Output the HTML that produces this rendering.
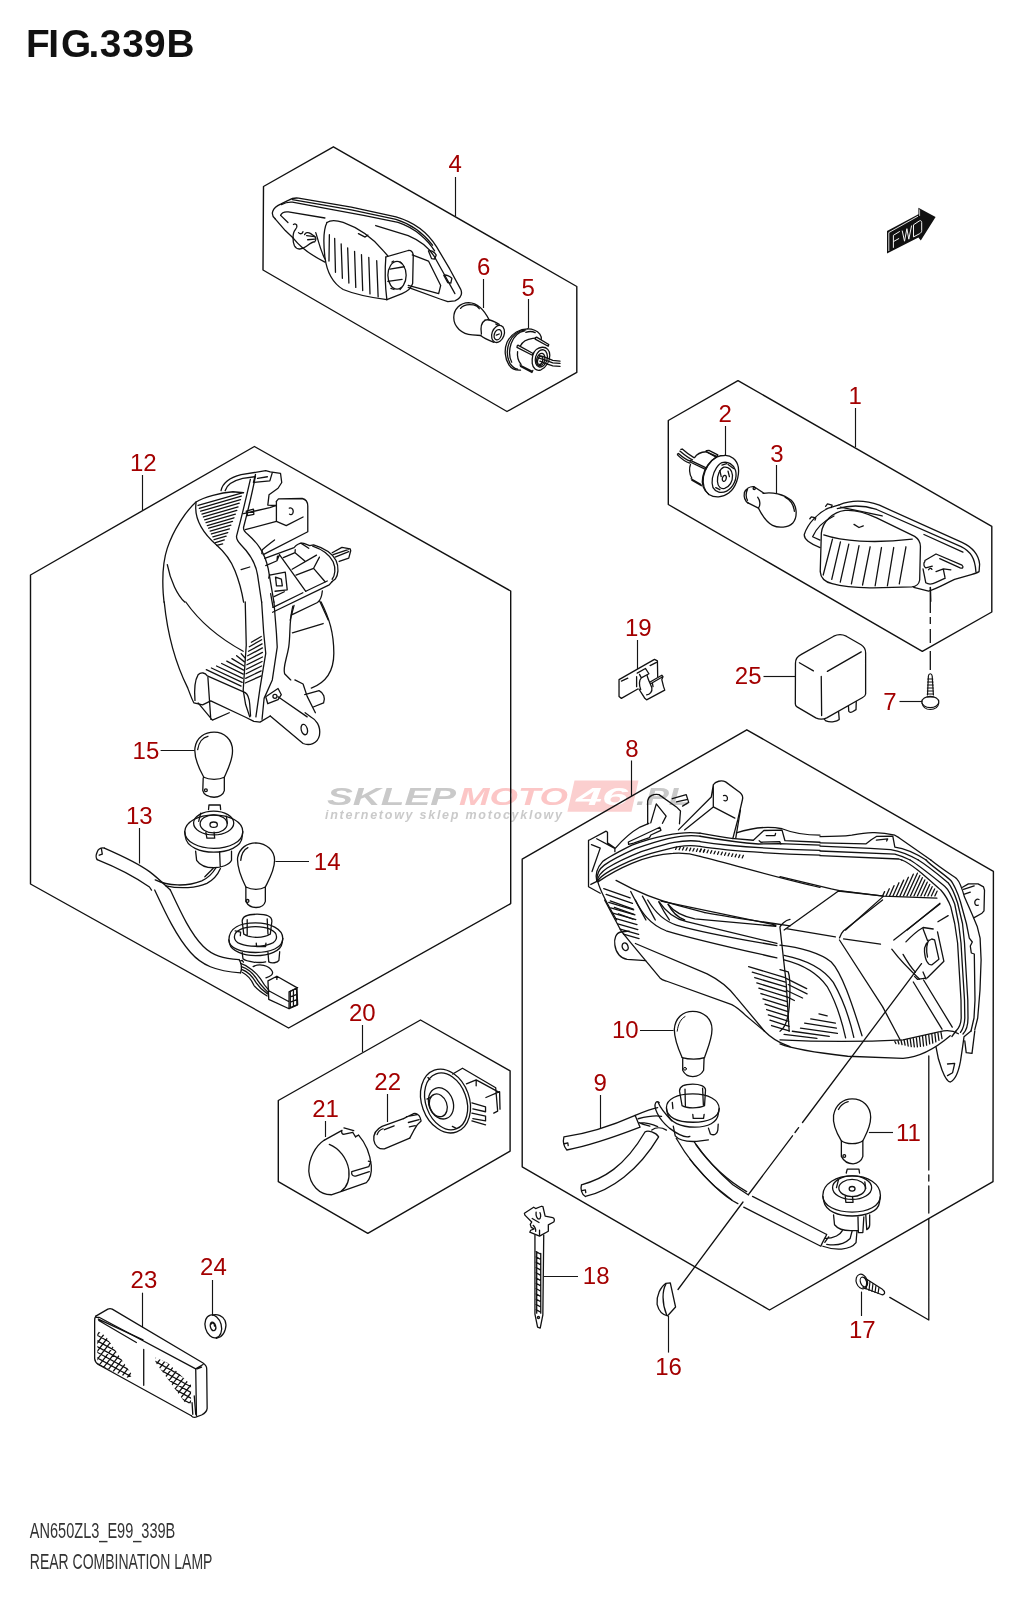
<!DOCTYPE html>
<html><head><meta charset="utf-8">
<style>
html,body{margin:0;padding:0;background:#fff;width:1024px;height:1600px;overflow:hidden}
svg{display:block;will-change:transform}
.t{font-family:"Liberation Sans",sans-serif}
.lb{font-family:"Liberation Sans",sans-serif;font-size:24px;fill:#a30000;text-anchor:middle}
.k{fill:none;stroke:#111;stroke-width:1.4;stroke-linejoin:round;stroke-linecap:round}
.ld{fill:none;stroke:#151515;stroke-width:1.15}
.z{fill:none;stroke:#111;stroke-width:1.3;stroke-linejoin:round;stroke-linecap:round}
.z path,.z line,.z ellipse,.z circle,.z polyline,.z polygon,.z rect{vector-effect:non-scaling-stroke}
.zw{fill:#fff}
</style></head>
<body>
<svg width="1024" height="1600" viewBox="0 0 1024 1600">
<rect width="1024" height="1600" fill="#fff"/>

<!-- title -->
<text class="t" x="26 48.2 61 88.5 99.7 122.3 144 166.4" y="57.2" font-size="38.8" font-weight="bold" fill="#111">FIG.339B</text>

<!-- footer -->
<text class="t" x="29.8" y="1538.3" font-size="22.3" fill="#333" textLength="145.5" lengthAdjust="spacingAndGlyphs">AN650ZL3_E99_339B</text>
<text class="t" x="29.8" y="1569" font-size="22.3" fill="#333" textLength="182.6" lengthAdjust="spacingAndGlyphs">REAR COMBINATION LAMP</text>

<!-- watermark -->
<g id="wm">
<polygon points="574.5,780.5 638.5,780.5 631.5,811.7 567.4,811.7" fill="#fbcfcf"/>
<text class="t" x="327" y="805" font-size="24" font-weight="bold" font-style="italic" fill="#c9c9c9" textLength="129" lengthAdjust="spacingAndGlyphs">SKLEP</text>
<text class="t" x="459" y="805" font-size="24" font-weight="bold" font-style="italic" fill="#fcc6c6" textLength="109" lengthAdjust="spacingAndGlyphs">MOTO</text>
<text class="t" x="576" y="805" font-size="24" font-weight="bold" font-style="italic" fill="#fff" textLength="52" lengthAdjust="spacingAndGlyphs">46</text>
<text class="t" x="636" y="805" font-size="24" font-weight="bold" font-style="italic" fill="#c9c9c9" textLength="54" lengthAdjust="spacingAndGlyphs">.PL</text>
<text class="t" x="325" y="818.5" font-size="12.5" font-weight="bold" font-style="italic" fill="#cacaca" textLength="237" lengthAdjust="spacing">internetowy sklep motocyklowy</text>
</g>

<!-- hexagons -->
<g class="k">
<polygon points="333.4,146.8 263.5,186.5 263,270 507,411.5 576.8,372.4 576.8,286.5"/>
<polygon points="738,380.6 668.3,420.5 668.3,504.5 922.3,651.3 991.8,612 991.8,526.4"/>
<polygon points="254.4,446.5 30.5,575 30.5,884 288.6,1028 510.7,903.6 510.7,591"/>
<polygon points="746.8,729.8 522.2,859.2 522.2,1166.8 769.5,1310 993,1181.7 993.4,871.4"/>
<polygon points="420.5,1020 278.3,1100.5 278.3,1181.7 367.8,1233.3 510.1,1151.2 510.1,1070.8"/>
</g>

<!-- FWD arrow -->
<g id="fwd">
<polygon points="887,231 918.4,214.3 918.4,207.8 935.6,217 920.8,240.5 918.4,237.5 887,253.5" fill="#111"/>
<path d="M888.8,251 L888.8,232.6 L918,216.2" fill="none" stroke="#fff" stroke-width="0.85"/>
<path d="M919.6,209.5 L919.6,216" fill="none" stroke="#fff" stroke-width="0.7"/>
<path d="M893.4,247.8 L893.4,235.3 L899.8,231.4 M893.4,241.6 L899.1,238.4 M902.2,230.6 L904.5,241.2 L906.9,228.7 L908.8,239.2 L911.6,225.5 M913.5,224.8 L919.4,220.9 C920.8,220.2 921.7,221 921.7,222.5 L921.7,230.6 C921.7,232 920.8,233 919.4,233.8 L913.5,236.9 Z" fill="none" stroke="#fff" stroke-width="0.95" stroke-linejoin="round"/>
</g>

<!-- leaders -->
<g class="ld" id="leaders">
<line x1="455.5" y1="177" x2="455.5" y2="216"/>
<line x1="483.5" y1="279" x2="483.5" y2="308"/>
<line x1="528.5" y1="299" x2="528.5" y2="328.5"/>
<line x1="855.5" y1="408" x2="855.5" y2="447"/>
<line x1="725.5" y1="426" x2="725.5" y2="455"/>
<line x1="776.5" y1="465" x2="776.5" y2="493"/>
<line x1="142.5" y1="475" x2="142.5" y2="510"/>
<line x1="160.6" y1="750.5" x2="194.6" y2="750.5"/>
<line x1="139.5" y1="828" x2="139.5" y2="863.5"/>
<line x1="275.4" y1="861.5" x2="309" y2="861.5"/>
<line x1="637.5" y1="640" x2="637.5" y2="669"/>
<line x1="763.5" y1="676.5" x2="795" y2="676.5"/>
<line x1="899.5" y1="701.5" x2="922.4" y2="701.5"/>
<line x1="362.5" y1="1025" x2="362.5" y2="1052"/>
<line x1="387.5" y1="1094" x2="387.5" y2="1122"/>
<line x1="325.5" y1="1121" x2="325.5" y2="1137"/>
<line x1="142.5" y1="1292.7" x2="142.5" y2="1327.4"/>
<line x1="212.5" y1="1280" x2="212.5" y2="1315.7"/>
<line x1="631.5" y1="760.5" x2="631.5" y2="796"/>
<line x1="640" y1="1030.5" x2="673.6" y2="1030.5"/>
<line x1="600.5" y1="1095" x2="600.5" y2="1128"/>
<line x1="868.9" y1="1132.5" x2="893" y2="1132.5"/>
<line x1="544" y1="1276.5" x2="578" y2="1276.5"/>
<line x1="668.5" y1="1316" x2="668.5" y2="1352.6"/>
<line x1="861.5" y1="1291.6" x2="861.5" y2="1316"/>
</g>

<!-- labels -->
<g>
<text class="lb" x="455.3" y="172">4</text>
<text class="lb" x="483.6" y="275">6</text>
<text class="lb" x="528.3" y="295.5">5</text>
<text class="lb" x="855.2" y="404">1</text>
<text class="lb" x="725.1" y="422">2</text>
<text class="lb" x="776.9" y="461.5">3</text>
<text class="lb" x="143.3" y="471">12</text>
<text class="lb" x="145.9" y="759">15</text>
<text class="lb" x="139.3" y="824">13</text>
<text class="lb" x="327.2" y="870">14</text>
<text class="lb" x="638.3" y="635.5">19</text>
<text class="lb" x="748.2" y="684">25</text>
<text class="lb" x="889.9" y="709.6">7</text>
<text class="lb" x="632" y="756.6">8</text>
<text class="lb" x="625.3" y="1038.4">10</text>
<text class="lb" x="600.3" y="1091">9</text>
<text class="lb" x="908.4" y="1141">11</text>
<text class="lb" x="596.2" y="1284">18</text>
<text class="lb" x="668.5" y="1374.6">16</text>
<text class="lb" x="862.3" y="1338">17</text>
<text class="lb" x="362.3" y="1020.5">20</text>
<text class="lb" x="387.7" y="1090">22</text>
<text class="lb" x="325.5" y="1117">21</text>
<text class="lb" x="143.9" y="1288">23</text>
<text class="lb" x="213.4" y="1275">24</text>
</g>

<!-- PARTS -->
<!-- part 4 -->
<g class="z" transform="translate(266,192) scale(0.203125)">
<path d="M45,132 C20,110 30,78 72,60 L112,40 C125,32 140,28 160,30 L420,75 L640,122 C730,148 800,205 840,270 L905,380 L958,478 C968,500 960,522 930,536 L895,540 L860,528 L700,470"/>
<path d="M75,62 C95,52 110,48 130,50 L300,82 L480,115 L650,150 C740,180 800,240 830,290"/>
<path d="M130,38 L420,88 L640,135 C720,160 780,210 820,262"/>
<path d="M45,132 L95,190 L135,228"/>
<path d="M72,115 C78,100 92,96 110,98 L290,128"/>
<path d="M72,115 L108,150"/>
<path d="M540,165 L700,215 C760,240 800,270 830,320 L880,410 L930,500"/>
<path d="M720,310 L800,340 L860,460 L850,500 L700,460"/>
<path d="M800,290 C810,285 830,295 838,310 L830,330 L815,328 Z"/>
<path d="M875,410 C885,405 905,415 915,425 L910,448 L895,446 Z"/>
<path d="M300,150 C320,136 345,138 380,150 C450,175 520,220 578,290 L600,315"/>
<path d="M300,150 C285,180 282,250 290,320 C300,400 330,450 380,480 C440,505 520,520 595,530"/>
<path d="M590,320 L700,288 C712,286 722,295 725,310 L722,450 C715,475 695,490 670,500 L595,530"/>
<path d="M590,320 C585,380 585,450 595,530"/>
<ellipse cx="645" cy="410" rx="45" ry="68"/>
<path d="M610,380 L680,368 M600,440 L670,430"/>
<path d="M620,345 L628,340 M660,345 L668,352 M615,475 L630,480 M660,480 L668,470"/>
<path d="M312,210 L310,340 M338,228 L342,395 M370,255 L376,425 M402,275 L408,448 M436,292 L442,470 M470,308 L476,485 M506,322 L512,502 M545,338 L552,516"/>
<path d="M455,205 L488,222 L502,212"/>
<path d="M135,160 C150,150 160,170 145,185 C130,200 130,240 140,265 C150,285 175,285 195,270 C215,255 225,245 240,245 C250,235 245,220 235,215 L220,205 C205,195 195,200 190,210"/>
<path d="M160,200 C170,210 180,205 182,195 M200,215 L240,220 M205,235 L240,232"/>
<path d="M245,200 C255,230 265,280 290,330"/>
<path d="M135,228 C160,260 200,300 290,345"/>
</g>
<!-- part 6 & 5 -->
<g class="z" transform="translate(450,300) scale(0.1171875)">
<path d="M335,172 C300,100 240,25 160,22 C85,22 32,80 32,150 C32,230 100,290 190,298 L262,303"/>
<path d="M90,72 C110,45 150,35 200,42 C220,45 240,58 250,75"/>
<path d="M300,172 C330,160 360,170 420,208"/>
<path d="M262,303 C280,320 320,340 375,362"/>
<path d="M300,172 C270,190 260,240 268,290"/>
<ellipse cx="410" cy="290" rx="52" ry="75" transform="rotate(20 410 290)"/>
<ellipse cx="408" cy="296" rx="30" ry="45" transform="rotate(20 408 296)"/>
<path d="M390,205 L405,212 M395,300 L420,290"/>
</g>
<!-- socket 5 detailed -->
<g class="z" transform="translate(500,320) scale(0.05859375)">
<path d="M470,150 C350,150 200,220 120,380 C70,500 80,650 150,760 C200,840 270,860 350,855"/>
<path d="M440,170 C330,180 220,250 160,380 C110,500 120,640 170,740 C210,800 250,830 300,840"/>
<path d="M420,185 C320,200 240,270 190,400 C150,520 160,640 200,720"/>
<path d="M470,150 C560,150 640,190 680,240 C700,270 710,300 705,330"/>
<path d="M440,210 C500,190 560,195 600,215"/>
<path d="M350,440 C380,380 450,330 560,315 L610,310 M300,540 C290,620 310,700 360,760"/>
<path d="M605,300 L625,293 L832,418 L822,448 L600,326 Z"/>
<path d="M295,438 L305,430 L565,572 L552,602 L290,466 Z"/>
<path d="M340,768 L552,878 L560,860 M350,792 L545,896 L552,878"/>
<path d="M560,600 C580,520 650,470 720,465 C800,460 850,520 850,600 C850,700 790,800 700,850 C620,880 560,820 550,740 C545,680 550,640 560,600 Z"/>
<ellipse cx="705" cy="655" rx="100" ry="150" transform="rotate(15 705 655)"/>
<ellipse cx="695" cy="675" rx="68" ry="108" transform="rotate(15 695 675)"/>
<ellipse cx="685" cy="690" rx="42" ry="70" transform="rotate(15 685 690)"/>
<path d="M662,608 C700,600 800,650 900,690 L1024,702 M668,650 C720,662 800,700 900,732 L1024,740 M680,702 C730,722 820,762 900,782 L1024,792"/>
</g>
<!-- socket 2 detailed -->
<g class="z" transform="translate(672,448) scale(0.068359)">
<path d="M760,110 C860,100 950,170 970,280 C990,420 930,580 830,660 C740,730 620,730 540,680 C460,620 430,520 450,420 C470,300 560,180 660,130 C700,115 730,110 760,110 Z"/>
<path d="M640,135 C560,190 480,300 460,420 C445,530 480,630 540,680"/>
<path d="M730,215 C820,190 900,240 930,330 C960,440 900,580 800,630 C720,670 640,650 600,580 C570,500 590,380 650,290 C680,250 700,225 730,215 Z"/>
<path d="M760,280 C830,270 880,320 885,400 C890,490 840,570 770,590 C710,605 670,560 665,490 C660,400 700,300 760,280 Z"/>
<ellipse cx="765" cy="445" rx="28" ry="45" transform="rotate(15 765 445)"/>
<path d="M730,250 L800,230 M820,240 L900,300 M640,580 L700,610 M700,330 L720,420 M820,340 L840,420"/>
<path d="M330,140 C360,90 420,60 500,55 L640,130 M270,240 C250,290 250,380 290,440"/>
<path d="M500,40 L540,35 L670,100 L660,125 L505,58 M270,180 L500,290 L490,312 L265,205 M280,450 L420,530 L430,552 L290,472"/>
<path d="M130,20 L150,15 C200,60 250,100 320,140 M115,45 C180,100 240,150 300,172 M80,90 L95,80 C150,130 200,170 270,192 M80,100 C130,150 190,200 260,222"/>
</g>
<!-- part 2 & 3 -->
<g class="z" transform="translate(670,440) scale(0.13671875)">
</g>
<!-- bulb 3 -->
<g class="z" transform="translate(660,430) scale(0.15625)">
<path d="M660,405 C720,395 790,410 840,450 C880,490 880,560 850,595 C820,625 760,630 720,610 C680,590 650,540 630,500"/>
<path d="M625,430 C640,450 645,480 630,500 M600,362 L665,405 M560,465 L630,500"/>
<path d="M600,362 C575,360 550,375 540,400 C535,430 545,455 565,468 M560,380 C550,400 550,430 560,450"/>
<circle cx="603" cy="374" r="7"/>
<path d="M800,430 C830,445 855,480 860,520"/>
</g>
<!-- part 1 lamp -->
<g class="z" transform="translate(795,490) scale(0.185546875)">
<path d="M142,232 C148,170 205,118 270,110 C330,105 380,122 440,150 L645,250 C668,265 676,285 676,305 L672,485 C668,508 650,520 630,522 L420,527 C330,528 250,520 200,505 C160,495 138,470 136,440 Z"/>
<path d="M155,242 C250,275 420,290 632,265"/>
<path d="M202,265 L152,458 M245,280 L198,482 M290,292 L244,496 M345,300 L304,506 M405,306 L364,512 M466,310 L432,516 M532,310 L498,516 M598,306 L562,506"/>
<path d="M318,185 L345,202 L368,193"/>
<path d="M238,80 C300,55 380,55 455,82 L900,282 C960,310 990,350 995,400 L992,440 C970,455 920,462 860,482 C800,510 760,535 720,545 L640,525"/>
<path d="M228,100 C300,80 370,82 440,105 L895,305 C945,330 970,365 975,440"/>
<path d="M245,92 L470,140 M695,240 L905,335"/>
<path d="M238,80 L180,98 C130,120 70,175 50,240 C48,262 70,285 135,310"/>
<path d="M95,252 C110,215 150,170 210,140 M95,252 L135,270"/>
<path d="M165,88 L175,75 L200,82 L195,95 M80,155 L88,145 L112,150 L108,162"/>
<path d="M700,380 L760,345 L900,405 C910,415 905,425 890,420 L780,370"/>
<path d="M690,425 L705,500 C720,510 740,508 760,498 L810,475 M700,385 C690,395 695,415 705,420 L740,410 M720,430 C725,420 735,420 738,428 M760,440 L800,425 L840,430 M800,430 L808,470"/>
<path d="M730,525 L732,600"/>
</g>
<!-- dashed line lamp1 -> screw 7 -->
<line x1="930.3" y1="587" x2="930.3" y2="670" stroke="#111" stroke-width="1.3" stroke-dasharray="26 4 7 5 14 8"/>
<!-- screw 7 -->
<g class="k" style="stroke-width:1.2">
<path d="M927.5,695 L928.4,676 C928.8,673 931.8,673 932.2,676 L933.4,695"/>
<path d="M927.8,679 L932.8,679 M927.6,682 L933,682 M927.5,685 L933.2,685 M927.4,688 L933.3,688 M927.4,691 L933.4,691 M927.3,694 L933.4,694 M927.3,697 L933.4,697"/>
<ellipse cx="930.3" cy="702" rx="8.5" ry="5.6"/>
<path d="M922,703 C923,708 927,709.5 930.3,709.5 C934,709.5 938,708 938.8,703"/>
</g>
<!-- taillight 12 upper -->
<g class="z" transform="translate(155,462) scale(0.205078)">
<path d="M200,195 C150,240 90,330 60,420 C40,480 35,560 40,640 L44,683"/>
<path d="M200,195 C240,170 320,150 380,145 L432,150"/>
<path d="M200,200 C192,260 215,330 300,405 C340,440 370,480 390,530 C410,580 425,640 432,683"/>
<path d="M60,500 C75,580 110,650 145,683"/>
<path d="M210,212 L425,150 M216,226 L421,166 M223,240 L417,184 M229,254 L411,201 M236,268 L405,219 M242,282 L399,236 M249,296 L392,254 M255,310 L385,272 M262,323 L378,290 M269,337 L370,308 M275,351 L363,326 M282,365 L355,344 M288,379 L347,362 M295,393 L338,380 M301,407 L330,399"/>
<path d="M465,85 C450,150 430,240 398,360 C395,375 400,385 420,405 C460,445 490,490 500,550 L520,683"/>
<path d="M490,68 C478,130 455,230 432,318 C430,330 438,342 452,352 C500,395 535,440 552,520 L580,683"/>
<path d="M420,525 L462,512"/>
<path d="M322,140 C330,100 360,78 420,62 L540,42 L562,48 L612,55 L618,100 L600,128 L556,160 L550,210 L592,212"/>
<path d="M490,60 L480,100 L560,92 L572,52 M500,80 L548,72"/>
<path d="M342,140 C350,112 378,92 428,80 L486,72"/>
<path d="M592,192 L602,180 L718,178 C738,183 745,198 745,215 L745,340 L528,452"/>
<path d="M592,192 L592,290 L640,310 L722,268"/>
<path d="M655,225 C668,220 678,235 672,250 C668,258 660,258 656,254"/>
<path d="M440,330 L592,290 M432,252 L560,222 L592,212 M445,240 L480,230 L482,255 L452,262 Z"/>
</g>
<!-- taillight socket -->
<g class="z" transform="translate(255,540) scale(0.09765625)">
<path d="M100,188 L400,78 C430,45 470,28 500,35 L560,58 L600,50 C700,80 790,130 830,210 C862,280 852,360 822,400 L790,425"/>
<path d="M590,62 C680,92 760,142 800,222 C830,292 820,362 790,402"/>
<path d="M470,32 L550,85 M790,130 L890,75 L975,90 L980,110 L960,185 L862,220 M800,150 L960,95 M820,175 L960,120"/>
<path d="M70,140 L75,100 C120,60 160,30 200,0"/>
<path d="M110,262 L220,215 M230,165 L225,212 L250,150 M250,150 L520,525"/>
<path d="M290,180 L410,130 L510,215 M410,130 L412,100 M380,300 L630,155 M420,360 L600,290 L660,175 M600,290 L720,430 M520,525 L740,420"/>
<path d="M150,360 L310,330 L330,510 L205,525 M210,380 L270,400 L280,470 L220,470 Z M195,580 L300,530"/>
<path d="M185,690 L490,540 M180,740 L760,460 L790,425"/>
<path d="M360,820 L400,670 M370,770 L640,640 C670,620 685,570 690,520 M660,620 L750,819"/>
<path d="M150,355 L140,390 M160,550 L185,690"/>
</g>
<!-- taillight 12 lower -->
<g class="z" transform="translate(155,602) scale(0.205078)">
<path d="M150,0 C220,100 320,180 430,240"/>
<path d="M45,0 C60,150 100,300 160,420 C175,460 182,480 190,492 L232,502 L272,482 L442,562 L482,582 L512,586 L562,556"/>
<path d="M195,480 C190,420 195,380 210,355 C225,340 245,345 255,360 L440,442 C455,452 460,472 462,500 L466,556"/>
<path d="M210,492 L280,576 L362,540 M258,368 L272,572"/>
<path d="M250,330 L420,410 M275,322 L425,392 M300,312 L428,372 M325,300 L430,352 M350,288 L432,332 M375,276 L434,312 M398,262 L436,292 M420,252 L438,272"/>
<path d="M440,395 L518,360 M442,372 L518,336 M444,350 L520,312 M446,328 L522,290 M448,306 L524,268 M450,284 L524,246 M452,262 L524,224 M456,240 L522,204 M460,218 L520,184 M470,196 L518,168"/>
<path d="M440,0 L445,210 L430,430 L442,500 L462,560"/>
<path d="M520,0 L530,150 L540,250 L512,420 L492,560"/>
<path d="M580,0 L592,150 L596,220 L572,380 L532,470 L522,572"/>
<path d="M672,20 C652,100 662,150 652,220 C642,280 622,320 632,350 L662,380"/>
<path d="M670,150 L820,105 M810,0 C850,80 872,150 872,250 C872,330 842,390 762,420"/>
<path d="M562,556 L722,690 C752,702 792,692 802,650 C810,602 782,572 762,562 L732,540 M600,462 L742,560"/>
<ellipse cx="728" cy="622" rx="15" ry="26" transform="rotate(-15 728 622)"/>
<path d="M730,452 L800,432 C822,442 832,470 822,492 L772,512 M682,380 L722,400 L742,460 L782,540"/>
<path d="M540,462 L600,422 L616,452 L600,476 L550,496 Z"/>
<circle cx="585" cy="460" r="10"/>
</g>
<!-- bulbs 15, 14, socket, harness 13 -->
<g class="z" transform="translate(90,725) scale(0.205078)">
<path d="M555,255 C530,210 505,160 512,110 C520,60 560,35 605,35 C655,35 695,70 695,125 C695,175 670,220 655,255"/>
<path d="M525,120 C530,85 550,60 575,55"/>
<path d="M555,255 C580,268 630,268 655,255 M552,258 L550,320 C555,340 575,350 605,352 C630,350 650,340 655,320 L655,255 M575,345 C590,356 620,356 635,345"/>
<circle cx="565" cy="318" r="7"/>
<path d="M462,520 C465,470 530,440 603,438 C680,440 745,470 745,520 C745,570 680,600 603,602 C530,600 462,570 462,520 Z"/>
<path d="M462,520 L465,545 C470,595 540,620 603,620 C670,620 740,595 742,545 L745,520"/>
<ellipse cx="603" cy="478" rx="98" ry="58"/>
<ellipse cx="603" cy="482" rx="66" ry="44"/>
<ellipse cx="603" cy="486" rx="18" ry="13"/>
<path d="M578,412 L580,390 L635,390 L637,412 M540,430 L530,470 M665,445 L670,480"/>
<path d="M565,522 L570,552 L608,552 L605,522"/>
<path d="M515,615 L520,660 C540,690 580,696 603,696 C640,696 680,682 690,660 L690,615 M632,618 L635,690"/>
<path d="M70,600 C55,598 40,605 35,620 C28,635 30,650 35,656 M55,600 L60,630 L45,635"/>
<path d="M70,600 C150,635 230,670 290,715 C330,745 360,775 392,805"/>
<path d="M35,656 C120,690 220,740 290,790 L300,805"/>
<path d="M318,755 C380,785 470,790 545,760 C580,745 600,720 615,695 M370,784 C440,800 520,795 570,772 C600,757 620,737 636,700 M560,740 L600,700"/>
<path d="M760,790 C735,740 715,690 720,645 C730,600 765,575 810,575 C860,578 900,610 900,660 C900,710 870,760 855,790"/>
<path d="M735,660 C738,630 750,608 770,598"/>
<path d="M760,790 C790,805 830,805 855,790 M760,790 L760,860 C770,880 790,890 810,890 C835,890 850,880 855,860 L855,790"/>
<circle cx="768" cy="858" r="7"/>
</g>
<g class="z" transform="translate(150,890) scale(0.15625)">
<path d="M130,0 C200,150 260,280 340,360 C400,420 470,440 570,445 M30,0 C100,150 170,300 260,400 C330,480 420,520 580,530"/>
<path d="M505,320 C505,240 580,210 675,210 C770,210 850,250 850,310 C850,370 770,400 675,400 C580,400 505,370 505,320 Z"/>
<path d="M505,320 L510,345 C520,390 600,420 675,420 C760,420 840,390 845,340 L850,310"/>
<path d="M540,300 C540,260 600,235 675,235 C750,235 810,260 810,300 C810,340 750,360 675,360 C600,360 540,340 540,300 Z"/>
<path d="M590,200 C590,170 630,155 685,155 C740,155 780,170 780,200 M590,200 L600,282 M780,200 L770,282 M622,190 L622,292 M750,185 L755,282 M600,282 C640,310 730,310 770,282"/>
<path d="M545,262 L580,270 L578,292 M680,340 L682,362 L740,362 L742,340"/>
<path d="M590,400 L595,440 C620,460 700,470 740,460 M755,400 L760,460 C780,472 815,466 825,450 L830,395"/>
<path d="M570,445 C585,470 590,500 580,530 M575,455 L590,450 L598,462"/>
<path d="M580,470 C630,485 680,530 705,565 C725,600 740,620 760,640 M585,490 C630,505 670,545 690,580 C710,610 730,630 755,655 M590,510 C630,525 660,560 680,595 C700,625 720,645 752,665 M592,528 C625,545 650,575 665,610 C690,640 720,660 750,678"/>
<path d="M660,490 C700,470 760,480 782,520 C792,540 772,552 742,562"/>
<path d="M755,582 L812,552 L940,625 L945,735 L890,760 L760,700 Z M812,552 L812,572 M890,652 L945,625 M890,652 L890,760 M760,645 L890,715"/>
<path d="M898,648 L938,630 L940,735 L898,752 Z M898,684 L940,668 M898,718 L940,702 M918,640 L918,745"/>
</g>
<!-- headlamp 8 UL -->
<g class="z" transform="translate(580,770) scale(0.205078)">
<path d="M330,262 L330,150 C335,125 360,115 385,120 L470,180 L490,200 L485,262 M345,258 L372,165 L420,225 L402,260 M450,140 L518,120 L530,158 L500,176 M470,155 L520,145"/>
<path d="M480,292 L640,132 L650,72 C660,55 690,48 710,58 L780,110 C792,120 796,130 792,145 L770,240 L745,335 M650,72 L650,180 L755,235 M510,292 L650,180"/>
<path d="M700,125 C712,120 722,130 718,145 C714,152 706,152 702,148"/>
<path d="M609.8,695.6 C700,712 850,735 1024,760"/>
</g>
<!-- headlamp HL-A -->
<g class="z" transform="translate(585,820) scale(0.1171875)">
<path d="M30,175 L180,95 L192,105 L192,195 L255,240 L255,270 M30,175 L30,570 L130,625 M55,210 L130,240 L60,440 M50,550 L110,520 M100,160 L250,240"/>
<path d="M260,240 C320,170 400,100 470,60 L545,28 M370,188 L372,208 L415,198 L550,150 L562,128 L648,88 L638,62 Z"/>
<path d="M100,520 C88,470 100,410 150,355 C210,310 300,265 400,215 C560,150 820,88 981,113"/>
<path d="M100,520 C100,460 115,420 165,385 C230,340 330,290 430,245 C600,185 820,112 981,138"/>
<path d="M103,522 C110,480 130,450 190,410 C270,360 380,310 480,270 C660,215 820,158 981,183"/>
<path d="M106,524 C120,495 150,470 220,430 C310,380 420,330 530,295 C700,250 830,200 981,225"/>
<path d="M110,528 C180,480 280,420 400,370 C520,320 650,290 750,285 C840,278 900,285 981,310"/>
<path d="M773,251 L783,229 M803,254 L813,232 M832,256 L842,234 M862,259 L872,237 M892,262 L902,240 M921,265 L931,243 M951,268 L961,246 M980,270 L990,248 M1010,273 L1020,251"/>
<path d="M110,530 C130,600 180,700 270,853"/>
<path d="M160,585 L385,665 M180,635 L405,712 M215,690 L412,760 M250,745 L418,805 M285,800 L410,845"/>
<path d="M265,515 C400,590 600,680 800,730 L1024,790 M390,610 C430,690 480,780 520,853 M490,650 C530,720 570,800 600,853 M630,700 C660,760 690,810 720,853 M710,720 C740,780 790,830 850,853"/>
</g>
<!-- headlamp HL-B -->
<g class="z" transform="translate(700,810) scale(0.1171875)">
<path d="M310,195 C450,150 600,140 700,160 C800,200 900,215 1024,215"/>
<path d="M0,198 C100,215 200,235 270,242 L455,258 L545,175 L700,172 L725,262 L1024,275"/>
<path d="M505,262 L520,275 L680,270 L690,290 M565,218 L640,218 L645,200"/>
<path d="M0,224 C150,250 350,280 500,290 L680,287 L1024,300"/>
<path d="M0,269 C200,300 500,330 1024,345"/>
<path d="M0,311 C200,345 500,368 1024,385"/>
<path d="M0,396 C300,470 700,590 1024,660"/>
<path d="M0,356 L10,334 M30,360 L40,338 M60,365 L70,343 M90,369 L100,347 M120,374 L130,352 M150,378 L160,356 M180,382 L190,360 M210,387 L220,365 M240,391 L250,369 M270,396 L280,374 M300,400 L310,378 M330,405 L340,383 M360,409 L370,387"/>
<path d="M305,240 L345,0"/>
</g>
<!-- headlamp 8 LL -->
<g class="z" transform="translate(580,900) scale(0.205078)">
<path d="M120,0 L200,150 L245,205 L390,380 C400,390 410,392 420,395 L740,510 C770,525 790,545 810,565 L900,640 C930,670 960,690 1000,705 L1024,715"/>
<path d="M140,12 L262,48 M150,38 L268,72 M160,64 L272,96 M172,90 L278,120 M184,116 L282,144 M196,142 L286,168 M212,166 L288,188"/>
<path d="M270,0 C300,60 340,120 420,150 C550,190 750,235 960,282"/>
<path d="M330,0 C360,50 400,100 470,122 C600,160 800,195 960,222"/>
<path d="M385,8 C420,60 460,92 520,106 L960,212"/>
<path d="M430,22 C460,60 500,80 560,92 L955,128 M395,5 L955,122"/>
<path d="M240,152 L200,156 C175,160 165,190 170,220 C175,260 200,285 230,290 L320,296"/>
<ellipse cx="220" cy="228" rx="14" ry="19" transform="rotate(-20 220 228)"/>
<path d="M270,212 L620,360 C680,390 720,420 760,472 L900,640"/>
<path d="M822,325 L1000,378 M840,352 L1002,400 M852,378 L1004,424 M862,404 L1006,448 M872,430 L1008,472 M882,456 L1010,496 M892,482 L1012,520 M902,508 L1014,544 M910,534 L1016,568 M918,560 L1018,592 M926,586 L1020,616 M934,612 L1020,638"/>
<path d="M975,132 C980,120 1000,100 1024,95 M975,132 L1005,400 L1020,640"/>
</g>
<!-- headlamp 8 UR -->
<g class="z" transform="translate(780,770) scale(0.205078)">
<path d="M195,325 C270,325 320,322 350,318 C420,305 480,298 560,318 L580,330 C633.4,367.3 686.7,404.7 735.5,439.0"/>
<path d="M195,355 L420,360 L445,340 L470,324 L550,322 L560,376 C605.1,382.0 661.6,406.1 712.3,439.0"/>
<path d="M195,371 L440,382 L540,388 C579.9,394.7 628.8,412.8 674.6,439.0"/>
<path d="M195,395 L560,410 C586.2,416.7 611.1,426.9 634.3,439.0"/>
<path d="M195,418 L580,434 C584.6,435.5 589.3,437.2 593.9,439.0"/>
<path d="M470,342 L525,336 L520,346"/>
<path d="M0,520 L250,580 M250,580 L290,588 L505,615 L765,625"/>
<path d="M500,614 L510,593 M517,614 L533,579 M534,614 L556,564 M551,614 L580,550 M568,614 L603,537 M585,614 L626,523 M602,614 L650,508 M619,614 L670,503 M636,614 L682,514 M653,614 L694,525 M670,614 L706,536 M687,614 L718,547 M704,614 L730,558 M721,614 L742,569 M738,614 L754,580 M755,614 L766,591"/>
<path d="M20,780 L285,590 L505,615 L320,780 M620,780 L780,650 M770,740 L820,710"/>
</g>
<!-- headlamp right rim (source coords) -->
<g class="k" style="stroke-width:1.3">
<path d="M901.8,860.0 C912,864 925,876 941,890.3 C946,896 949,902 950.8,906.9 L954.7,923.5 L957.6,943 L958.6,960 L961,1000 L961.2,1018 C961,1024 959,1028 956,1031"/>
<path d="M910.1,860.0 C920,866 932,876 944.9,886.4 C949,890 952,897 954.7,904 L958.6,923.5 L961,943 L962,960 L964.5,1000 L964.8,1018 C964.5,1025 963,1029 960.5,1032.4"/>
<path d="M918.3,860.0 C928,866 940,876 947.9,882.5 C951,886 955,895 957.6,903 L962.5,923.5 L964.5,943 L965.4,960 L967.8,1000 L968,1018 C968,1026 966,1031 963,1034"/>
<path d="M926.1,860.0 C930,865 944,874 950.8,880.5 C953,883 958,893 960.5,902 L966.4,923.5 L969.3,938.1 L972.3,942 L970.3,946 L971.3,953 L974.3,954 L975,1000 L974,1018 L971,1031"/>
<path d="M930.8,860.0 C938,866 950,874 956.6,878.6 C959,881 962,888 964.5,897.1 L972.3,914.7 L977.2,926.4 L980.1,938.1 L981.1,960 L980,990 L977.7,1018 L974.8,1029.6"/>
<path d="M962.5,887.3 L968.4,883.9 L978.1,883.9 L983.5,886.9 L984.5,890.3 L984,910.8 L982,913.2 L974.2,917.6 M963.5,889.3 L974.2,885.9 M964.5,894.2 L970.3,892.2"/>
<path d="M905.9,941.9 C911,936.5 917,931 923.1,927.5 L933.2,929 M937.5,931.9 L943.9,961.3 L927.4,977.8 L917.4,979.3 L914.5,976.4 M923.1,929 L927.5,940.5 M926,979 L923,972"/>
<path d="M924.5,952 C923.8,946.2 927.4,940.5 931.7,939 L934.6,939.8 L938.9,959.2 L931.7,964.9 C927.4,964.9 925.3,960.6 924.5,952 Z M929,940 C926.5,944 926,950 927.5,957"/>
<path d="M979,899.5 C976.5,898.5 974.5,900.5 974.8,903 C975,905 976.5,905.8 978.3,905.2"/>
<path d="M936,1046.8 C937,1054 939,1062 942,1070 C944.7,1077 947,1082 950.4,1082 C955,1080 958.5,1072 960.5,1061.2 L962.6,1046.8 L964,1036.8 M947.5,1064 L954.7,1063.3 L952.6,1072.7 L947.5,1075.6 M964.8,1041 L966.2,1052.6 L972,1053.3 L974.8,1030.8 M956,1031 L951.9,1036.5 M971,1031 L964,1036.8"/>
</g>
<!-- headlamp 8 LR -->
<g class="z" transform="translate(780,900) scale(0.205078)">
<path d="M30,140 L270,180 M310,190 L490,215 M290,185 C295,170 300,160 310,150 L500,0 M555,195 L780,20"/>
<path d="M545,240 C560,260 620,330 680,385 M600,265 C620,300 640,330 660,352"/>
<path d="M290,195 L500,520 L585,680 M650,400 L790,630 M700,390 L840,620"/>
<path d="M0,220 C100,230 200,262 250,302 C300,352 350,500 400,662 M20,270 C120,290 210,332 260,402 C300,472 340,580 360,670 M20,292 C100,312 180,352 230,422 C270,492 300,582 320,672"/>
<path d="M0,340 L40,350 C50,380 50,450 45,520 C40,580 30,620 0,640"/>
<path d="M30,382 L130,432 M40,412 L132,458 M30,440 L110,478 M30,470 L70,490 M150,580 L270,600 M120,600 L275,625 M100,625 L280,650 M60,640 L240,665 M20,655 L180,675 M190,555 L230,565"/>
<path d="M0,682 C200,692 400,692 600,682 L780,642 C820,632 850,640 870,652"/>
<path d="M0,702 C50,722 150,742 330,762 L600,772 C680,767 760,722 830,662"/>
<path d="M560,690 L565,700 M575,686 L580,702 M590,684 L595,705 M605,682 L610,708 M620,680 L625,712 M635,678 L640,715 M650,676 L655,716 M665,672 L670,716 M680,668 L685,714 M695,664 L700,712 M710,660 L715,708 M725,656 L730,702 M740,652 L745,698 M755,650 L760,692 M770,648 L775,684 M785,646 L790,676"/>
</g>
<!-- bulb 10 -->
<g class="k" style="stroke-width:1.3">
<path d="M682.1,1057.6 C678.2,1048.8 674.3,1039.1 674.3,1029.3 C675.2,1017.6 683,1011.3 692.8,1011.3 C703.6,1011.3 712,1018.6 712,1029.3 C712,1039.1 707.5,1048.8 704.5,1057.6"/>
<path d="M682.1,1057.6 C688.9,1059.6 698.7,1059.6 704.5,1057.6 M682.7,1058.6 L682.7,1070.3 C685,1075.2 688.9,1076.6 692.8,1076.6 C697.7,1076.6 701.6,1074.2 703.6,1070.3 L704.1,1057.6"/>
<circle cx="685" cy="1068.8" r="1.4" style="stroke-width:1"/>
<path d="M677.2,1031.2 C678.2,1023.4 681.1,1018.6 685,1016.6" style="stroke-width:1"/>
</g>
<!-- socket 9 + wires -->
<g class="z" transform="translate(560,1050) scale(0.1953125)">
<path d="M612,210 C612,185 645,175 680,175 C715,175 745,185 745,205 M612,210 L625,285 M745,205 L740,285 M640,200 L642,285 M730,195 L734,280 M625,285 C650,300 710,300 740,285"/>
<path d="M545,295 C545,250 600,225 680,225 C760,225 815,255 815,300 C815,345 760,370 680,370 C600,370 545,345 545,295 Z"/>
<path d="M545,300 L550,325 C560,370 620,395 690,395 C760,395 805,370 810,330 L815,300"/>
<path d="M575,268 L578,300 M680,330 L682,350 L735,350 L738,330"/>
<path d="M580,390 L590,440 C610,465 660,470 700,468 L760,460 M760,400 L770,430 C790,440 805,430 808,410 L810,380"/>
<path d="M490,270 C478,290 500,350 560,400 C600,430 640,452 665,442 M502,268 C512,292 540,330 572,362 M490,270 C495,262 505,262 508,270"/>
<path d="M20,445 C130,430 250,395 385,335 M35,512 C150,490 280,445 410,395 M20,445 C14,470 20,495 35,512 M22,480 L40,476 L42,490 M385,335 L410,395"/>
<path d="M385,335 C420,320 470,300 500,295 M400,352 C440,342 480,332 520,340 M405,372 C440,372 470,378 500,392 M405,372 C420,380 440,385 460,390"/>
<path d="M110,690 C220,660 330,600 435,420 M130,750 C260,720 400,620 505,445 M110,690 C104,710 110,740 130,750 M112,720 L130,716 L132,730 M435,420 C450,410 490,420 505,445"/>
<path d="M470,410 C490,395 520,395 545,410"/>
<path d="M595,452 C645,540 705,620 795,700 L880,768 M688,472 C735,540 805,620 885,690 L965,742"/>
</g>
<!-- bulb 11, socket 11, long diag -->
<g class="z" transform="translate(690,1090) scale(0.1953125)">
<path d="M30,280 C100,380 200,470 290,520 M320,545 L700,740 M0,355 C80,450 160,540 245,582 M275,600 L670,800 M700,740 C690,760 675,785 670,800"/>
<path d="M690,760 C740,760 770,740 780,720 M700,790 C760,800 800,780 820,760 L830,722 M680,800 C740,822 820,822 850,782 L855,722 M710,752 L690,780"/>
<path d="M800,425 L805,405 L865,405 L868,425"/>
<path d="M680,540 C680,480 750,440 830,440 C910,440 975,480 975,540 C975,595 910,625 830,625 C750,625 680,595 680,540 Z"/>
<path d="M680,545 L685,570 C695,620 760,645 830,645 C905,645 965,620 970,575 L975,545"/>
<ellipse cx="830" cy="500" rx="100" ry="60"/>
<ellipse cx="830" cy="502" rx="68" ry="44"/>
<ellipse cx="830" cy="506" rx="15" ry="12"/>
<path d="M795,545 L798,575 L835,575 L832,545 M760,460 L750,500 M895,470 L900,505"/>
<path d="M735,640 L740,690 C760,715 800,722 835,720 L860,720 M860,650 L862,730 L885,730 L890,650 M900,640 L905,715 C915,710 920,700 920,690 L920,640"/>
<path d="M775,260 C750,220 730,170 735,130 C745,75 785,45 830,45 C885,45 925,85 925,140 C925,190 900,230 885,260"/>
<path d="M760,100 C770,80 790,65 810,60"/>
<path d="M775,260 C800,280 860,280 885,260 M775,262 L775,340 C790,370 810,378 835,378 C860,378 880,360 885,340 L885,260"/>
<circle cx="790" cy="338" r="7"/>
</g>
<path class="k" style="stroke-width:1.3" d="M921.5,963.6 L802.5,1122.5 M798.6,1127.6 L795,1132.5 M792.5,1135.8 L748.5,1194.5 M743,1202 L678,1289.5"/>
<!-- dash line headlamp -> screw 17 -->
<path class="k" style="stroke-width:1.3" d="M928.8,1056 L928.8,1170 M928.8,1175 L928.8,1181 M928.8,1186 L928.8,1213 M928.8,1219 L928.8,1320 L889.8,1297.4"/>
<!-- screw 17 -->
<g class="k" style="stroke-width:1.2">
<ellipse cx="861.8" cy="1281.5" rx="5.5" ry="7.5" transform="rotate(-20 861.8 1281.5)"/>
<ellipse cx="863.5" cy="1282" rx="3" ry="5" transform="rotate(-20 863.5 1282)"/>
<path d="M864,1277.5 L882,1289 C885.5,1291.5 885.5,1294.5 882,1294.8 L863,1287.5"/>
<path d="M867,1279.5 L866,1289 M870,1281.5 L869,1290.5 M873,1283.5 L872,1291.5 M876,1285.5 L875,1292.5 M879,1287.5 L878,1293.5"/>
</g>
<!-- part 16 -->
<g class="z" transform="translate(520,1220) scale(0.17578)">
<path d="M830,360 L855,358 L885,495 L840,545 C810,540 790,520 780,480 C775,430 800,380 830,360 Z"/>
<path d="M830,365 C810,400 805,470 835,542"/>
<path d="M85,85 L85,535 L100,610 L115,615 L130,540 L135,85"/>
<path d="M92,180 L118,195 M92,210 L118,225 M92,240 L118,255 M92,270 L118,285 M92,300 L118,315 M92,330 L118,345 M92,360 L118,375 M92,390 L118,405 M92,420 L118,435 M92,450 L118,465 M92,480 L118,495 M92,510 L118,525 M95,185 L95,530 M118,190 L118,530"/>
<circle cx="105" cy="555" r="6"/>
</g>
<g class="z" transform="translate(520,1200) scale(0.048828)">
<path d="M90,270 L280,148 L320,175 L440,128 L470,138 L515,330 L670,360 C705,370 715,420 690,450 L580,510 L580,640 L400,740 L200,660 L220,620 L290,590 L230,560 L210,500 L240,450 L100,310 Z"/>
<path d="M330,250 C320,320 350,390 390,390 C430,385 430,300 410,260 M250,380 L390,460 M400,620 L400,720 M270,520 C300,540 330,600 320,640"/>
</g>
<!-- hex 20 parts -->
<g class="z" transform="translate(300,1060) scale(0.1953125)">
<path d="M125,410 C80,440 45,500 45,570 C50,640 100,690 160,690 L220,670 L340,628 C358,610 368,580 365,540 C358,480 335,425 300,385"/>
<path d="M125,410 L215,360 M215,360 C210,372 216,382 228,380 L270,370 L285,395 M225,348 L275,362 M300,385 L285,392"/>
<path d="M150,432 C200,452 240,502 250,562 C255,612 240,652 210,672"/>
<path d="M265,572 L352,546 L362,522 L350,518 M265,572 C262,587 270,597 285,594 L355,572"/>
<path d="M530,300 L420,340 C390,355 375,380 378,410 C382,440 405,458 432,455 L562,400"/>
<path d="M530,300 L580,275 C595,270 610,280 615,295 L620,312 L600,332 L582,362 L562,400 M545,290 L600,280 M555,320 L610,305 M560,342 L590,336"/>
<path d="M395,382 C400,367 410,357 425,352 M432,357 L482,337"/>
<ellipse cx="745" cy="210" rx="122" ry="168" transform="rotate(-20 745 210)"/>
<ellipse cx="748" cy="212" rx="104" ry="150" transform="rotate(-20 748 212)"/>
<ellipse cx="722" cy="222" rx="62" ry="82" transform="rotate(-20 722 222)"/>
<ellipse cx="708" cy="232" rx="44" ry="60" transform="rotate(-20 708 232)"/>
<path d="M655,90 L665,100 M780,340 L800,350 M650,200 L670,190"/>
<path d="M782,72 L832,42 L1002,142 L1012,262 L992,272 M852,122 L902,102 L1022,167 M902,102 L902,132 M952,192 L1022,162 L1024,252"/>
<path d="M880,220 L950,240 L950,265 L885,250 M880,272 L950,287 L950,312 L885,300 M880,312 L950,332"/>
</g>
<!-- reflector 23 & grommet 24 -->
<g class="z" transform="translate(80,1300) scale(0.146484)">
<path d="M108,110 L190,62 C200,58 210,58 220,62 L840,430 C858,442 865,455 865,470 L868,740 C866,760 850,775 830,785 L790,800 C775,803 765,798 760,790"/>
<path d="M108,110 C100,120 100,130 100,140 L100,400 C102,420 110,430 125,440 L760,790 M112,118 L130,118 L790,470 L795,790"/>
<path d="M125,130 L430,272 M128,140 L385,290"/>
<path d="M790,470 L840,440 M800,470 L830,458"/>
<path d="M435,338 L435,582 M765,700 L770,780 M780,655 L790,780"/>
<ellipse cx="910" cy="180" rx="55" ry="80" transform="rotate(-15 910 180)"/>
<path d="M910,102 C940,95 975,110 990,140 C1005,175 990,230 960,250 L930,262"/>
<ellipse cx="908" cy="180" rx="18" ry="30" transform="rotate(-15 908 180)"/>
<path d="M895,165 C900,150 920,158 918,178"/>
<clipPath id="h23a"><polygon points="118,210 175,245 358,515 330,532 118,440"/></clipPath>
<clipPath id="h23b"><polygon points="515,392 600,430 758,580 758,705 720,705 515,425"/></clipPath>
<path clip-path="url(#h23a)" d="M100,-235 L800,150 M100,-196 L800,189 M100,-157 L800,228 M100,-119 L800,266 M100,-80 L800,305 M100,-41 L800,344 M100,-2 L800,383 M100,37 L800,422 M100,75 L800,460 M100,114 L800,499 M100,153 L800,538 M100,192 L800,577 M100,231 L800,616 M100,269 L800,654 M100,308 L800,693 M100,347 L800,732 M100,386 L800,771 M100,425 L800,810 M100,463 L800,848 M100,502 L800,887 M100,541 L800,926 M100,580 L800,965 M100,619 L800,1004 M100,657 L800,1042 M100,696 L800,1081 M100,735 L800,1120 M100,774 L800,1159 M100,150 L800,-760 M100,206 L800,-704 M100,262 L800,-648 M100,317 L800,-593 M100,373 L800,-537 M100,429 L800,-481 M100,485 L800,-425 M100,540 L800,-370 M100,596 L800,-314 M100,652 L800,-258 M100,708 L800,-202 M100,763 L800,-147 M100,819 L800,-91 M100,875 L800,-35 M100,931 L800,21 M100,986 L800,76 M100,1042 L800,132 M100,1098 L800,188 M100,1154 L800,244 M100,1210 L800,300 M100,1265 L800,355 M100,1321 L800,411 M100,1377 L800,467 M100,1433 L800,523 M100,1488 L800,578 M100,1544 L800,634 M100,1600 L800,690 M100,1656 L800,746"/>
<path clip-path="url(#h23b)" d="M100,-235 L800,150 M100,-196 L800,189 M100,-157 L800,228 M100,-119 L800,266 M100,-80 L800,305 M100,-41 L800,344 M100,-2 L800,383 M100,37 L800,422 M100,75 L800,460 M100,114 L800,499 M100,153 L800,538 M100,192 L800,577 M100,231 L800,616 M100,269 L800,654 M100,308 L800,693 M100,347 L800,732 M100,386 L800,771 M100,425 L800,810 M100,463 L800,848 M100,502 L800,887 M100,541 L800,926 M100,580 L800,965 M100,619 L800,1004 M100,657 L800,1042 M100,696 L800,1081 M100,735 L800,1120 M100,774 L800,1159 M100,150 L800,-760 M100,206 L800,-704 M100,262 L800,-648 M100,317 L800,-593 M100,373 L800,-537 M100,429 L800,-481 M100,485 L800,-425 M100,540 L800,-370 M100,596 L800,-314 M100,652 L800,-258 M100,708 L800,-202 M100,763 L800,-147 M100,819 L800,-91 M100,875 L800,-35 M100,931 L800,21 M100,986 L800,76 M100,1042 L800,132 M100,1098 L800,188 M100,1154 L800,244 M100,1210 L800,300 M100,1265 L800,355 M100,1321 L800,411 M100,1377 L800,467 M100,1433 L800,523 M100,1488 L800,578 M100,1544 L800,634 M100,1600 L800,690 M100,1656 L800,746"/>
</g>
<!-- clip 19 -->
<g class="z" transform="translate(612,655) scale(0.05859375)">
<path d="M120,420 L725,75 L775,100 L780,370 M120,420 L120,710 L160,740 L440,580"/>
<path d="M160,445 L270,395 M650,180 L760,125"/>
<path d="M430,310 L570,230 L630,320 L500,390 L470,330 M420,370 L420,540 M500,390 C460,430 460,520 490,590"/>
<path d="M600,350 C610,400 640,460 680,560 C690,620 650,680 590,680"/>
<path d="M460,580 C500,650 540,700 560,740 L590,765 L900,600 L880,540 L850,420 L870,370 L850,345 L650,460 M660,490 L850,380 M690,480 L700,540"/>
</g>
<!-- relay 25 -->
<g class="z" transform="translate(790,628) scale(0.078125)">
<path d="M70,450 C70,400 100,360 140,340 L560,105 C610,80 670,80 720,105 L910,215 C950,240 968,280 968,320 L968,845 C965,870 950,880 930,890 L470,1150 C430,1170 370,1170 330,1150 L90,1010 C72,1000 68,985 68,970 Z"/>
<path d="M120,445 L300,548 M478,555 L912,305 M400,620 L405,1120"/>
<path d="M622,1072 L630,1170 C600,1195 530,1215 460,1190 L440,1170 M748,1000 L752,1065 C760,1080 780,1082 800,1072 L845,1045 L848,940"/>
</g>

</svg>
</body></html>
